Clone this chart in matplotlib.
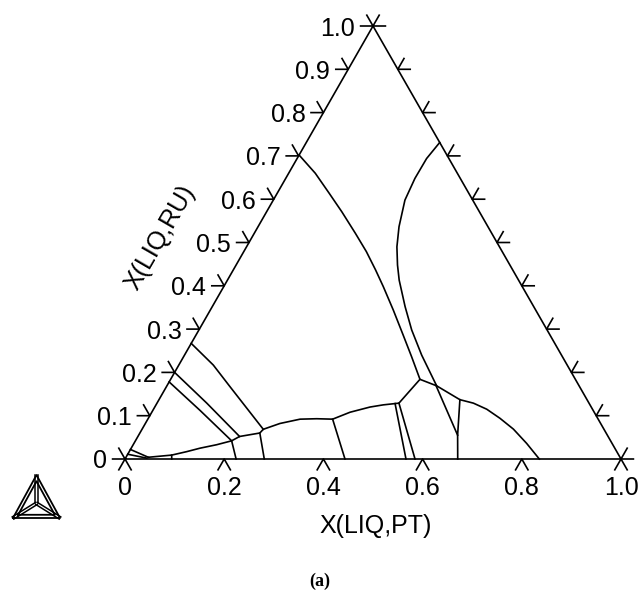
import numpy as np
import matplotlib.pyplot as plt

plt.rcParams['font.family'] = ['Liberation Sans', 'DejaVu Sans']

# all curves are (x_pt, x_ru) mole fractions
liquidus_pt = [0.045, 0.0896, 0.1159, 0.1388, 0.1684, 0.194, 0.205, 0.2418, 0.2445, 0.2713, 0.307, 0.34,
               0.3726, 0.3997, 0.434, 0.4581, 0.4805, 0.4878, 0.5027, 0.5438, 0.6067, 0.6379,
               0.6718, 0.709, 0.7486, 0.7918, 0.8353]
liquidus_ru = [0.004, 0.009, 0.017, 0.025, 0.033, 0.042, 0.052, 0.060, 0.0686, 0.082, 0.092, 0.093,
               0.092, 0.108, 0.120, 0.125, 0.128, 0.129, 0.184, 0.169, 0.137, 0.129,
               0.115, 0.094, 0.069, 0.036, 0.0]

upper1_pt = [0.5027, 0.4599, 0.4179, 0.3689, 0.3218, 0.287, 0.2471, 0.2041, 0.1516, 0.1045, 0.0536, 0.0]
upper1_ru = [0.184, 0.236, 0.286, 0.344, 0.398, 0.4365, 0.479, 0.521, 0.571, 0.614, 0.660, 0.702]

upper2_pt = [0.5438, 0.4781, 0.429, 0.3887, 0.3463, 0.3254, 0.3032, 0.2842, 0.2654, 0.2605, 0.2611, 0.269]
upper2_ru = [0.169, 0.240, 0.298, 0.352, 0.413, 0.448, 0.490, 0.5365, 0.598, 0.648, 0.694, 0.731]

# lines from the X(PT)=0 edge
edge_a_pt = [0.0, 0.0695, 0.1282, 0.2445]
edge_a_ru = [0.267, 0.217, 0.167, 0.0686]
edge_b_pt = [0.0, 0.1004, 0.205]
edge_b_ru = [0.200, 0.129, 0.052]
edge_c_pt = [0.0, 0.0955, 0.194]
edge_c_ru = [0.178, 0.112, 0.042]

# short lines near the corner
corner1_pt = [0.0, 0.045]
corner1_ru = [0.022, 0.004]
corner2_pt = [0.0, 0.043]
corner2_ru = [0.011, 0.002]

# lines down to the X(RU)=0 edge
tie_lines = [
    ([0.0896, 0.0942], [0.009, 0.0]),
    ([0.194, 0.224], [0.042, 0.0]),
    ([0.2418, 0.2808], [0.060, 0.0]),
    ([0.3726, 0.4435], [0.092, 0.0]),
    ([0.4805, 0.5665], [0.128, 0.0]),
    ([0.4878, 0.5847], [0.129, 0.0]),
    ([0.6067, 0.6431, 0.6708], [0.137, 0.055, 0.0]),
    ([0.541, 0.6431], [0.171, 0.055]),
]

pt_ticks = [0, 0.2, 0.4, 0.6, 0.8, 1.0]
pt_labels = ['0', '0.2', '0.4', '0.6', '0.8', '1.0']
ru_ticks = [0, 0.1, 0.2, 0.3, 0.4, 0.5, 0.6, 0.7, 0.8, 0.9, 1.0]
ru_labels = ['0', '0.1', '0.2', '0.3', '0.4', '0.5', '0.6', '0.7', '0.8', '0.9', '1.0']

tick = 0.025
lw = 1.2


def to_xy(pt, ru):
    pt = np.array(pt, dtype=float)
    ru = np.array(ru, dtype=float)
    return pt + ru/2, ru


def tern(ax, pt, ru):
    x, y = to_xy(pt, ru)
    ax.plot(x, y, color='black', lw=lw, clip_on=False, solid_joinstyle='round')


W, H = 639, 594
fig = plt.figure(figsize=(W/100, H/100), dpi=100)
ax = fig.add_axes([125/W, (H-459)/H, 496/W, 433/H])
ax.set_xlim(0, 1)
ax.set_ylim(0, 1)
ax.axis('off')

# triangle
tern(ax, [0, 1, 0, 0], [0, 0, 1, 0])

# tick marks
for p, lab in zip(pt_ticks, pt_labels):
    ax.plot([p - tick/2, p, p + tick/2], [-tick, 0, -tick], color='black', lw=lw, clip_on=False)
    ax.annotate(lab, (p, 0), xytext=(0, -17), textcoords='offset pixels',
                ha='center', va='top', fontsize=18)

for r, lab in zip(ru_ticks, ru_labels):
    x, y = to_xy(0, r)
    ax.plot([x - tick, x, x - tick/2], [y, y, y + tick], color='black', lw=lw, clip_on=False)
    ax.annotate(lab, (x, y), xytext=(-18, 0), textcoords='offset pixels',
                ha='right', va='center_baseline', fontsize=18)

    x, y = to_xy(1 - r, r)
    ax.plot([x + tick, x, x + tick/2], [y, y, y + tick], color='black', lw=lw, clip_on=False)

# phase boundaries
tern(ax, liquidus_pt, liquidus_ru)
tern(ax, upper1_pt, upper1_ru)
tern(ax, upper2_pt, upper2_ru)
tern(ax, edge_a_pt, edge_a_ru)
tern(ax, edge_b_pt, edge_b_ru)
tern(ax, edge_c_pt, edge_c_ru)
tern(ax, corner1_pt, corner1_ru)
tern(ax, corner2_pt, corner2_ru)
for pt, ru in tie_lines:
    tern(ax, pt, ru)

fig.text(376/W, 1 - 526/H, 'X(LIQ,PT)', ha='center', va='center', fontsize=18)
fig.text(160/W, 1 - 238/H, 'X(LIQ,RU)', ha='center', va='center', fontsize=18, rotation=60)
fig.text(320/W, 1 - 581/H, '(a)', ha='center', va='center', fontsize=13,
         family='Liberation Serif', weight='bold')

# logo in the lower left corner
logo = fig.add_axes([13/W, (H-518)/H, 47/W, 43/H])
logo.set_xlim(0, 1)
logo.set_ylim(0, 1)
logo.axis('off')
centre = np.array([0.5, 0.34])
corners = np.array([[0.0, 0.0], [1.0, 0.0], [0.5, 1.0], [0.0, 0.0]])
for scale in [1.0, 0.78]:
    tri = centre + (corners - centre)*scale
    logo.plot(tri[:, 0], tri[:, 1], color='black', lw=1.3, clip_on=False)
for c in corners[:3]:
    d = c - centre
    n = np.array([-d[1], d[0]])/np.hypot(*d)*0.03
    for s in [-1, 1]:
        logo.plot([centre[0] + s*n[0], c[0] + s*n[0]], [centre[1] + s*n[1], c[1] + s*n[1]],
                  color='black', lw=1.1, clip_on=False)

fig.savefig('out.png', dpi=100)
